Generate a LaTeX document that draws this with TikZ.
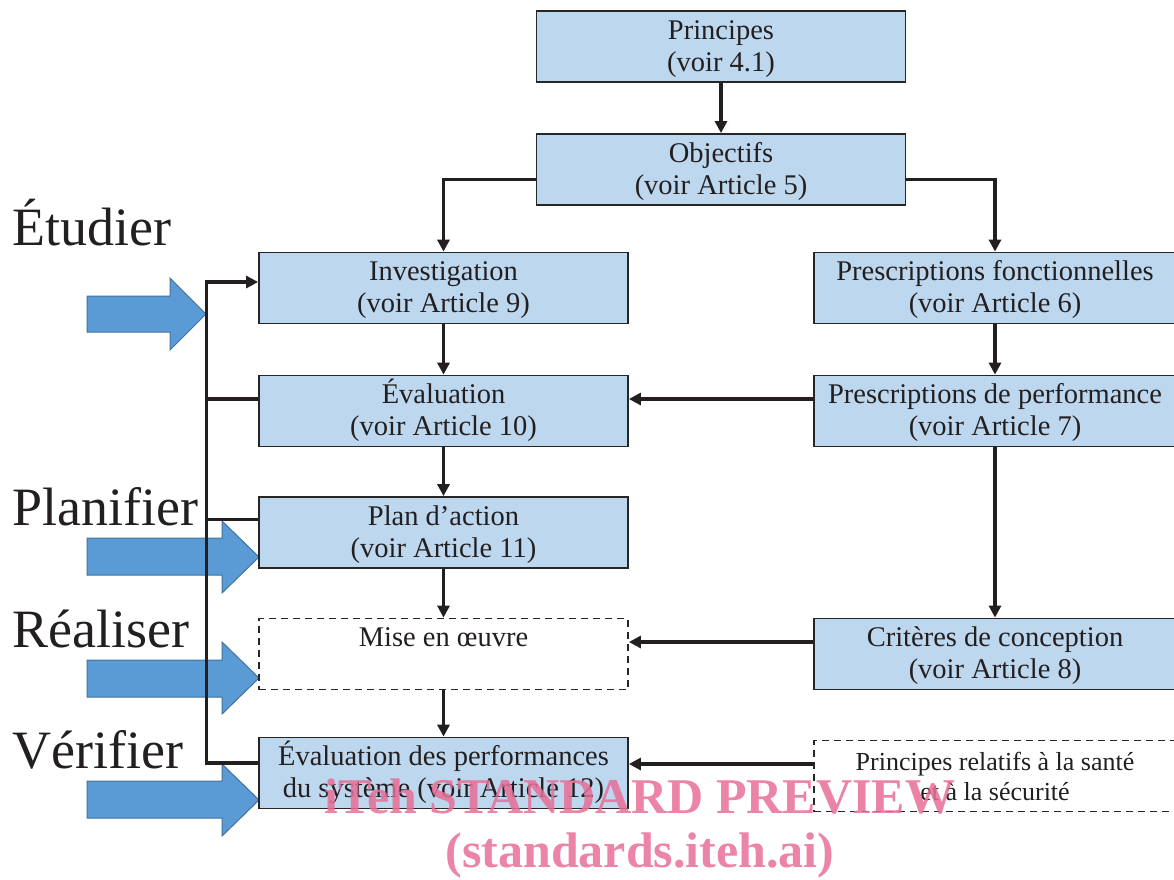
\documentclass[tikz,border=0pt]{standalone}
\usepackage{fontspec}
\setmainfont{Liberation Serif}
\usetikzlibrary{arrows.meta}
\definecolor{boxfill}{HTML}{BDD7EE}
\definecolor{boxline}{HTML}{262626}
\definecolor{linec}{HTML}{231F20}
\definecolor{bluefill}{HTML}{5B9BD5}
\definecolor{blueline}{HTML}{41719C}
\definecolor{wmark}{RGB}{232,110,150}
\newcommand{\twolines}[2]{\begin{tabular}{@{}c@{}}\rule{0pt}{26.6pt}#1\\#2\end{tabular}}
\begin{document}
\begin{tikzpicture}[x=1pt,y=-1pt,
  box/.style={rectangle, draw=boxline, line width=1.8pt, fill=boxfill,
    minimum width=369pt, minimum height=71pt, inner sep=0pt, align=center,
    font=\fontsize{28.5}{32}\selectfont, text=linec},
  rbox/.style={box, minimum width=362pt},
  dbox/.style={box, fill=white, dashed, dash pattern=on 7pt off 5pt},
  conn/.style={draw=linec, line width=3.2pt, -{Triangle[length=12pt,width=12pt]}},
  bline/.style={draw=linec, line width=3.2pt},
  phase/.style={anchor=base west, inner sep=0pt, font=\fontsize{54}{60}\selectfont, text=linec},
  barrow/.style={fill=bluefill, draw=blueline, line width=1pt},
  wm/.style={font=\fontsize{50}{56}\bfseries\selectfont, text=wmark, text opacity=0.85, inner sep=0pt}
]
\useasboundingbox (0,0) rectangle (1174,879);

% block arrows
\draw[barrow] (87,296) -- (170,296) -- (170,278) -- (206,314) -- (170,350) -- (170,332) -- (87,332) -- cycle;
\draw[barrow] (87,538) -- (222,538) -- (222,521) -- (259,557) -- (222,593) -- (222,575) -- (87,575) -- cycle;
\draw[barrow] (87,660) -- (222,660) -- (222,642) -- (259,678) -- (222,714) -- (222,697) -- (87,697) -- cycle;
\draw[barrow] (87,781) -- (222,781) -- (222,764) -- (259,800) -- (222,836) -- (222,818) -- (87,818) -- cycle;

% phase labels
\node[phase] (etudier) at (12,245) {Étudier};
\node[phase] (planifier) at (12,525) {Planifier};
\node[phase] (realiser) at (12,647) {Réaliser};
\node[phase] (verifier) at (12,768) {Vérifier};

% boxes
\node[box] (prin) at (721,46.5) {\twolines{Principes}{(voir 4.1)}};
\node[box] (obj) at (721,169.5) {\twolines{Objectifs}{(voir Article 5)}};
\node[box] (inv) at (443.5,288) {\twolines{Investigation}{(voir Article 9)}};
\node[rbox] (pf) at (995,288) {\twolines{Prescriptions fonctionnelles}{(voir Article 6)}};
\node[box] (eva) at (443.5,411) {\twolines{Évaluation}{(voir Article 10)}};
\node[rbox] (pp) at (995,411) {\twolines{Prescriptions de performance}{(voir Article 7)}};
\node[box] (plan) at (443.5,532.5) {\twolines{Plan d’action}{(voir Article 11)}};
\node[dbox] (mise) at (443.5,654) {\twolines{Mise en œuvre}{\phantom{(voir Article 11)}}};
\node[rbox] (crit) at (995,654) {\twolines{Critères de conception}{(voir Article 8)}};
\node[box] (evp) at (443.5,773) {\twolines{Évaluation des performances}{du système (voir Article 12)}};
\node[rbox, dbox, minimum width=362pt, font=\fontsize{26}{30}\selectfont] (psr) at (995,776) {Principes relatifs à la santé\\et à la sécurité};

\coordinate (bus) at (206.5,0);

% connectors
\draw[conn] (prin) -- (obj);
\draw[conn] ([yshift=-10pt]obj.west) -| (inv.north);
\draw[conn] ([yshift=-10pt]obj.east) -| (pf.north);
\draw[conn] (inv) -- (eva);
\draw[conn] (eva) -- (plan);
\draw[conn] (plan) -- (mise);
\draw[conn] (mise) -- (evp);
\draw[conn] (pf) -- (pp);
\draw[conn] (pp) -- (crit);
\draw[conn] ([yshift=12pt]pp.west) -- ([yshift=12pt]eva.east);
\draw[conn] ([yshift=12pt]crit.west) -- ([yshift=12pt]mise.east);
\draw[conn] ([yshift=12pt]psr.west) -- ([yshift=12pt]psr.west -| evp.east);

% feedback loop
\draw[conn] ([yshift=10pt]evp.west) -- ([yshift=10pt]evp.west -| bus) |- ([yshift=6pt]inv.west);
\draw[bline] ([yshift=12pt]eva.west) -- ([yshift=12pt]eva.west -| bus);
\draw[bline] ([yshift=13pt]plan.west) -- ([yshift=13pt]plan.west -| bus);

% watermark
\node[wm] (wm1) at (640,797) {iTeh STANDARD PREVIEW};
\node[wm] (wm2) at (640,855) {(standards.iteh.ai)};
\end{tikzpicture}
\end{document}
